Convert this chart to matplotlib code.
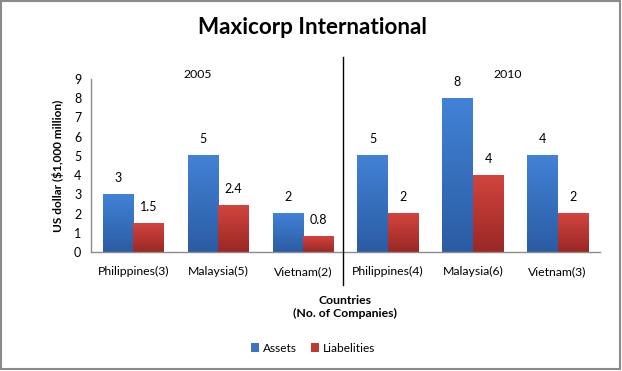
import matplotlib
matplotlib.use("Agg")
import matplotlib.pyplot as plt
import numpy as np
from matplotlib.lines import Line2D
from matplotlib.patches import Rectangle, Patch
from matplotlib.colors import LinearSegmentedColormap

categories = ["Philippines(3)", "Malaysia(5)", "Vietnam(2)",
              "Philippines(4)", "Malaysia(6)", "Vietnam(3)"]
assets = [3, 5, 2, 5, 8, 5]
liabilities = [1.5, 2.4, 0.8, 2, 4, 2]
asset_labels = ["3", "5", "2", "5", "8", "4"]
liability_labels = ["1.5", "2.4", "0.8", "2", "4", "2"]
yticks = list(range(0, 10))
periods = ["2005", "2010"]

plt.rcParams['font.family'] = ['Lato', 'DejaVu Sans']

W, H = 622, 371
fig = plt.figure(figsize=(W / 100, H / 100), dpi=100)
fig.patch.set_facecolor("white")

def fx(px):
    return px / W

def fy(py):
    return 1 - py / H

ax = fig.add_axes([fx(91), fy(252), fx(600) - fx(91), fy(79) - fy(252)])

x = np.arange(len(categories))
bw = 0.36
blue_cmap = LinearSegmentedColormap.from_list("b", ["#2b5ca3", "#4282d6"])
red_cmap = LinearSegmentedColormap.from_list("r", ["#9a2825", "#d2443d"])
grad = np.linspace(0, 1, 100).reshape(-1, 1)

b1 = ax.bar(x - bw / 2, assets, bw, color="none")
b2 = ax.bar(x + bw / 2, liabilities, bw, color="none")
for bars, cmap in ((b1, blue_cmap), (b2, red_cmap)):
    for r in bars:
        x0, h, w = r.get_x(), r.get_height(), r.get_width()
        ax.imshow(grad, extent=[x0, x0 + w, 0, h], origin="lower",
                  aspect="auto", cmap=cmap, zorder=2)

for r, lab in zip(b1, asset_labels):
    ax.annotate(lab, (r.get_x() + r.get_width() / 2, r.get_height()),
                xytext=(0, 7.5), textcoords="offset points", ha="center",
                va="bottom", fontsize=9)
for r, lab in zip(b2, liability_labels):
    ax.annotate(lab, (r.get_x() + r.get_width() / 2, r.get_height()),
                xytext=(0, 7.5), textcoords="offset points", ha="center",
                va="bottom", fontsize=9)

ax.set_xlim(-0.5, len(categories) - 0.5)
ax.set_ylim(0, 9)
ax.set_yticks(yticks)
ax.set_yticklabels([str(t) for t in yticks], fontsize=9)
ax.set_xticks(x)
ax.set_xticklabels(categories, fontsize=8.8)
ax.tick_params(axis="both", length=0, pad=7)
ax.tick_params(axis="x", pad=10)
for s in ("top", "right"):
    ax.spines[s].set_visible(False)
for s in ("left", "bottom"):
    ax.spines[s].set_color("#8c8c8c")
    ax.spines[s].set_linewidth(1)

ax.set_ylabel("US dollar ($1,000 million)", fontsize=8.6, fontweight="bold",
              labelpad=7)

fig.text(fx(312), fy(28), "Maxicorp International", ha="center", va="center",
         fontsize=16.2, fontweight="bold")
fig.text(fx(198), fy(75), periods[0], ha="center", va="center", fontsize=8.8)
fig.text(fx(508), fy(75), periods[1], ha="center", va="center", fontsize=8.8)
fig.text(fx(345), fy(307), "Countries\n(No. of Companies)", ha="center",
         va="center", fontsize=8.8, fontweight="bold", linespacing=1.25)

fig.add_artist(Line2D([fx(343), fx(343)], [fy(57), fy(285)], color="black",
                      linewidth=1))

handles = [Patch(facecolor="#3b74c4"), Patch(facecolor="#c0392f")]
fig.legend(handles, ["Assets", "Liabelities"], loc="center",
           bbox_to_anchor=(fx(313), fy(348)), ncol=2, frameon=False,
           fontsize=8.6, handlelength=0.7, handleheight=0.7, handletextpad=0.3,
           columnspacing=1.2)

fig.add_artist(Rectangle((fx(1), fy(369)), fx(619), fy(1) - fy(369),
                         transform=fig.transFigure, fill=False,
                         edgecolor="#8a8a8a", linewidth=1.5))

fig.savefig("out.png", dpi=100)
